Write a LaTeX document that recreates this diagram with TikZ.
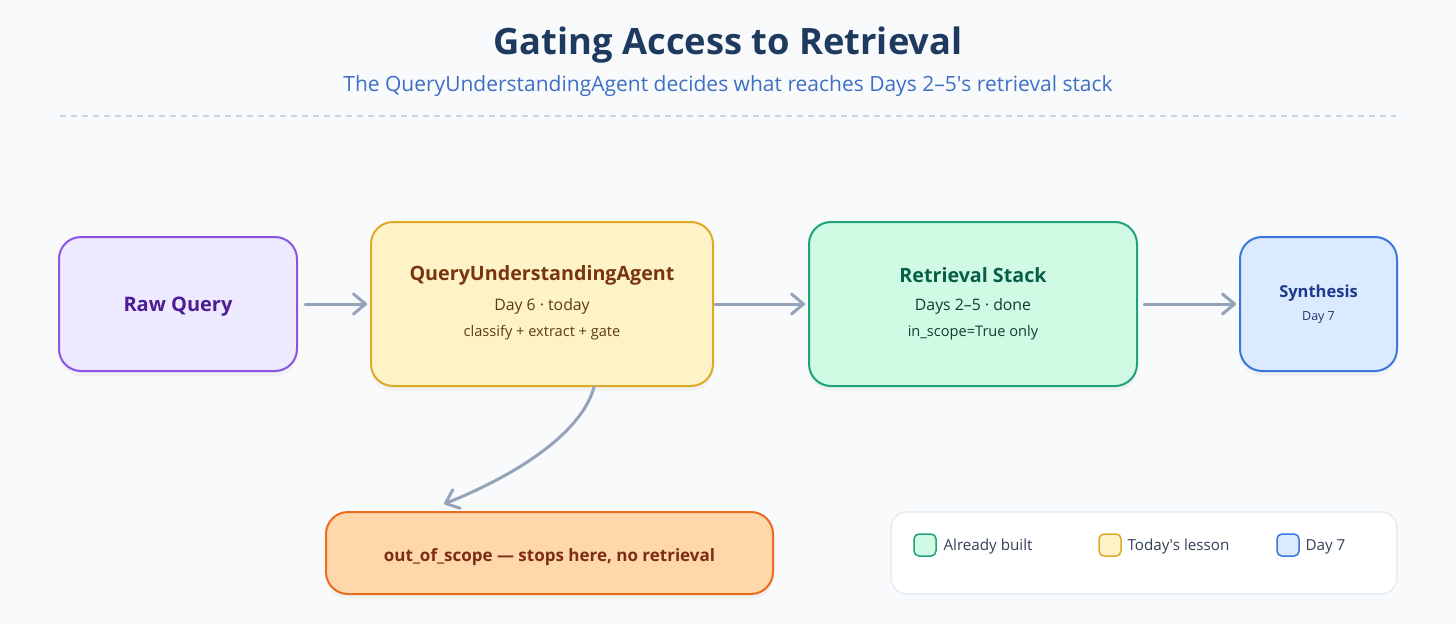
\documentclass[tikz,border=0pt]{standalone}
\usepackage{fontspec}
\setmainfont{Open Sans}
\usetikzlibrary{arrows.meta,calc,shadows}
\definecolor{bgc}{HTML}{F8FAFC}
\definecolor{arrc}{HTML}{94A3B8}
\definecolor{rulec}{HTML}{CBD5E1}
\definecolor{titlec}{HTML}{1E3A5F}
\definecolor{subc}{HTML}{3F6FC4}
\definecolor{rawf}{HTML}{EDE9FE}\definecolor{rawd}{HTML}{8B55E0}\definecolor{rawt}{HTML}{4C1D95}
\definecolor{quaf}{HTML}{FEF3C7}\definecolor{quad}{HTML}{E0A92A}\definecolor{quat}{HTML}{78350F}\definecolor{quas}{HTML}{5C3A12}
\definecolor{retf}{HTML}{D1FAE5}\definecolor{retd}{HTML}{1FA37A}\definecolor{rett}{HTML}{065F46}\definecolor{rets}{HTML}{0F3D30}
\definecolor{synf}{HTML}{DBEAFE}\definecolor{synd}{HTML}{3A77DB}\definecolor{synt}{HTML}{1E3A8A}\definecolor{syns}{HTML}{1E3A6A}
\definecolor{oosf}{HTML}{FED7AA}\definecolor{oosd}{HTML}{EA6C1E}\definecolor{oost}{HTML}{7C2D12}
\definecolor{legd}{HTML}{E2E8F0}\definecolor{legt}{HTML}{334155}
\tikzset{
  box/.style={draw, rounded corners=22pt, line width=2pt, inner sep=0pt,
    drop shadow={opacity=0.07, shadow xshift=0pt, shadow yshift=-5pt}},
  arr/.style={draw=arrc, line width=3pt, line cap=round,
    -{Straight Barb[length=12pt,width=20pt,line width=3pt,round]}},
  swatch/.style={draw, rounded corners=5pt, line width=1.5pt, minimum width=22pt, minimum height=22pt, inner sep=0pt},
  bigt/.style={font=\bfseries\fontsize{19.7}{23}\selectfont},
  midt/.style={font=\fontsize{15.8}{18}\selectfont},
  smt/.style={font=\fontsize{14.6}{17}\selectfont},
  legl/.style={anchor=west, text=legt, font=\fontsize{15.2}{18}\selectfont},
}
\begin{document}
\begin{tikzpicture}[x=1pt,y=-1pt]
\fill[bgc] (0,0) rectangle (1456,624);
\useasboundingbox (0,0) rectangle (1456,624);
% title
\node[text=titlec, font=\bfseries\fontsize{36.3}{40}\selectfont] (title) at (728,45) {Gating Access to Retrieval};
\node[text=subc, font=\fontsize{21}{25}\selectfont] (sub) at (728,86) {The QueryUnderstandingAgent decides what reaches Days 2–5\textquotesingle s retrieval stack};
\coordinate (ruleL) at (60,116);
\coordinate (ruleR) at (1396,116);
\draw[rulec, line width=1.2pt, dash pattern=on 6pt off 5pt] (ruleL) -- (ruleR);
% boxes
\node[box, fill=rawf, draw=rawd, minimum width=238pt, minimum height=134pt] (raw) at (178,304) {};
\node[box, fill=quaf, draw=quad, minimum width=342pt, minimum height=164pt] (qua) at (542,304) {};
\node[box, fill=retf, draw=retd, minimum width=328pt, minimum height=164pt] (ret) at (973,304) {};
\node[box, fill=synf, draw=synd, minimum width=157pt, minimum height=134pt] (syn) at (1318.5,304) {};
\node[box, fill=oosf, draw=oosd, minimum width=447pt, minimum height=82pt] (oos) at (549.5,553) {};
\node[draw=legd, fill=white, rounded corners=16pt, line width=1.2pt, minimum width=506pt, minimum height=82pt, inner sep=0pt] (leg) at (1144,553) {};
% texts
\node[text=rawt, font=\bfseries\fontsize{20}{23}\selectfont] (rawT) at (178,307) {Raw Query};
\node[bigt, text=quat] (quaT) at (542,275) {QueryUnderstandingAgent};
\node[midt, text=quas] (quaA) at (542,306) {Day 6 · today};
\node[smt, text=quas] (quaB) at (542,333) {classify + extract + gate};
\node[bigt, text=rett] (retT) at (973,275) {Retrieval Stack};
\node[midt, text=rets] (retA) at (973,306) {Days 2–5 · done};
\node[smt, text=rets] (retB) at (973,333) {in\_scope=True only};
\node[text=synt, font=\bfseries\fontsize{16.5}{20}\selectfont] (synT) at (1318.5,293) {Synthesis};
\node[text=syns, font=\fontsize{12.5}{14}\selectfont] (synA) at (1318.5,318) {Day 7};
\node[text=oost, font=\bfseries\fontsize{17}{20}\selectfont] (oosT) at (549.5,557) {out\_of\_scope — stops here, no retrieval};
% legend
\node[swatch, fill=retf, draw=retd] (sw1) at (925,545) {};
\node[legl] (lg1) at (940,547) {Already built};
\node[swatch, fill=quaf, draw=quad] (sw2) at (1110,545) {};
\node[legl] (lg2) at (1124,547) {Today\textquotesingle s lesson};
\node[swatch, fill=synf, draw=synd] (sw3) at (1288,545) {};
\node[legl] (lg3) at (1302,547) {Day 7};
% arrows
\draw[arr, shorten <=7pt, shorten >=3pt] (raw) -- (qua);
\draw[arr, shorten <=1pt, shorten >=3pt] (qua) -- (ret);
\draw[arr, shorten <=6pt, shorten >=3pt] (ret) -- (syn);
\coordinate (cs) at ($(qua.south)+(52,0)$);
\coordinate (ce) at ($(oos.north)+(-105.5,-7)$);
\draw[arr] (cs) .. controls ($(cs)+(-12,45)$) and ($(ce)+(75,-30)$) .. (ce);
\end{tikzpicture}
\end{document}
